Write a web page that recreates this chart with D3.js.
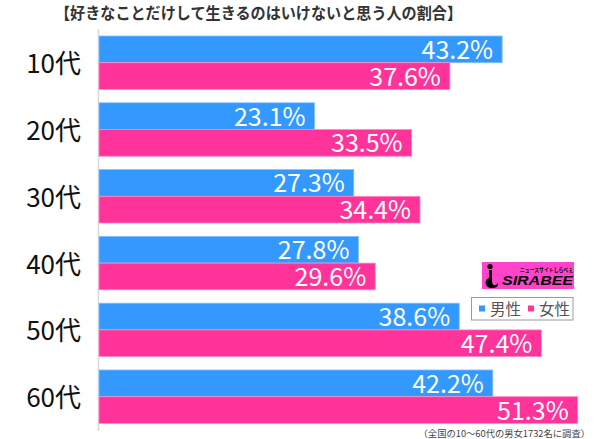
<!DOCTYPE html>
<html><head><meta charset="utf-8">
<script src="https://cdn.jsdelivr.net/npm/d3@7"></script>
<style>
html,body{margin:0;padding:0;background:#fff;}
svg{display:block;font-family:"Noto Sans CJK JP","Noto Sans",sans-serif;}
</style></head>
<body>
<svg id="chart" width="600" height="439"></svg>
<script>
const title = "【好きなことだけして生きるのはいけないと思う人の割合】";
const categories = ["10代","20代","30代","40代","50代","60代"];
const seriesNames = ["男性","女性"];
const male = [43.2, 23.1, 27.3, 27.8, 38.6, 42.2];
const female = [37.6, 33.5, 34.4, 29.6, 47.4, 51.3];
const note = "（全国の10〜60代の男女1732名に調査）";

const colors = ["#3399ff", "#ff3399"];
const strokes = ["#86c1ff", "#ff8cc4"];

const svg = d3.select("#chart");
const x = d3.scaleLinear().domain([0, 50]).range([99, 565.6]);
const y = d3.scaleBand().domain(categories).range([36, 423.4]).paddingInner(0.2).paddingOuter(0);
const sub = d3.scaleBand().domain(seriesNames).range([0, y.bandwidth()]);

// title
svg.append("text").attr("x", 258.5).attr("y", 19).attr("text-anchor", "middle")
  .attr("font-size", 16.3).attr("font-weight", "bold").attr("fill", "#333")
  .attr("textLength", 407).attr("lengthAdjust", "spacingAndGlyphs").text(title);

// axis line
svg.append("line").attr("x1", 98.5).attr("x2", 98.5).attr("y1", 29).attr("y2", 431)
  .attr("stroke", "#d8d8d8").attr("stroke-width", 1.5);

const data = categories.map((c, i) => ({c, vals: [male[i], female[i]]}));
const g = svg.selectAll("g.grp").data(data).join("g").attr("class", "grp")
  .attr("transform", d => `translate(0,${y(d.c)})`);

g.selectAll("rect").data(d => d.vals.map((v, k) => ({v, k}))).join("rect")
  .attr("x", x(0)).attr("y", d => sub(seriesNames[d.k]))
  .attr("width", d => x(d.v) - x(0)).attr("height", sub.bandwidth())
  .attr("fill", d => colors[d.k]).attr("stroke", d => strokes[d.k]).attr("stroke-width", 0.8);

g.selectAll("text.val").data(d => d.vals.map((v, k) => ({v, k}))).join("text").attr("class", "val")
  .attr("x", d => x(d.v) - 9).attr("y", d => sub(seriesNames[d.k]) + sub.bandwidth() / 2 + 9.5)
  .attr("text-anchor", "end").attr("font-size", 25).attr("fill", "#fff")
  .text(d => d.v.toFixed(1) + "%");

// category labels
svg.selectAll("text.cat").data(categories).join("text").attr("class", "cat")
  .attr("x", 81).attr("y", d => y(d) + y.bandwidth() / 2 + 10.5)
  .attr("text-anchor", "end").attr("font-size", 26).attr("fill", "#111").text(d => d);

// logo
const logo = svg.append("g");
logo.append("rect").attr("x", 482).attr("y", 262).attr("width", 92).attr("height", 27).attr("fill", "#ff44cc");
logo.append("circle").attr("cx", 490).attr("cy", 266.5).attr("r", 2.6).attr("fill", "#000");
logo.append("path").attr("d", "M489,270 L492,270 L492,281 Q492,286 496,285 L498,283 Q499,288 492,288 Q486,288 485.5,283 Q485.5,279 489,278 Z").attr("fill", "#000");
logo.append("text").attr("x", 502).attr("y", 285).attr("font-family", "'Liberation Sans',Arial,sans-serif")
  .attr("font-size", 12.5).attr("font-weight", "bold").attr("font-style", "italic")
  .attr("textLength", 71).attr("lengthAdjust", "spacingAndGlyphs").attr("fill", "#000").text("SIRABEE");
logo.append("text").attr("x", 520).attr("y", 271.5).attr("font-size", 5.5).attr("font-weight", "bold")
  .attr("textLength", 53).attr("lengthAdjust", "spacingAndGlyphs").attr("fill", "#000").text("ニュースサイトしらべぇ");

// legend
const lg = svg.append("g");
lg.append("rect").attr("x", 471.5).attr("y", 297.5).attr("width", 101.5).attr("height", 22.5)
  .attr("fill", "#fff").attr("stroke", "#9a9a9a").attr("stroke-width", 1);
const legX = [479, 528];
seriesNames.forEach((s, k) => {
  lg.append("rect").attr("x", legX[k]).attr("y", 305.5).attr("width", 6).attr("height", 6).attr("fill", colors[k]);
  lg.append("text").attr("x", legX[k] + 11).attr("y", 314.5).attr("font-size", 15.5).attr("fill", "#555").text(s);
});

// note
svg.append("text").attr("x", 590).attr("y", 437).attr("text-anchor", "end")
  .attr("font-size", 9.3).attr("fill", "#444").text(note);
</script>
</body></html>
